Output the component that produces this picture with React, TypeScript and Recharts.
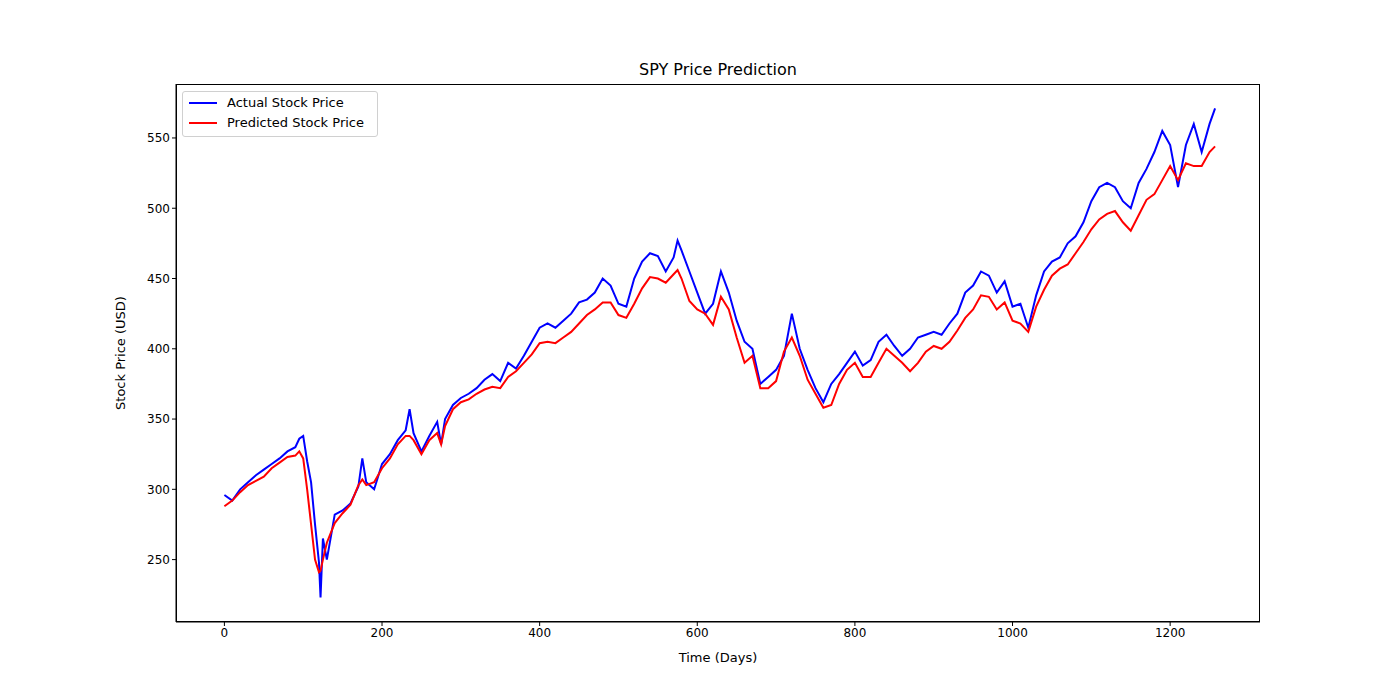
import { LineChart, Line, XAxis, YAxis } from 'recharts'

const days = [
  0, 10, 20, 30, 40, 50, 60, 70, 80, 90, 95, 100, 105, 110, 115, 120, 122, 125, 130, 140,
  150, 160, 170, 175, 180, 190, 200, 210, 220, 230, 235, 240, 250, 260, 270, 275, 280, 290, 300, 310,
  320, 330, 340, 350, 360, 370, 380, 390, 400, 410, 420, 430, 440, 450, 460, 470, 480, 490, 500, 510,
  520, 530, 540, 550, 560, 570, 575, 580, 590, 600, 610, 620, 630, 640, 650, 660, 670, 680, 690, 700,
  710, 720, 730, 740, 750, 760, 770, 780, 790, 800, 810, 820, 830, 840, 850, 860, 870, 880, 890, 900,
  910, 920, 930, 940, 950, 960, 970, 980, 990, 1000, 1010, 1020, 1030, 1040, 1050, 1060, 1070, 1080, 1090, 1100,
  1110, 1120, 1130, 1140, 1150, 1160, 1170, 1180, 1190, 1200, 1210, 1220, 1230, 1240, 1250, 1257,
]

const actual = [
  296, 292, 300, 305, 310, 314, 318, 322, 327, 330, 336, 338, 320, 305, 275, 248, 223, 265, 250, 282,
  285, 290, 302, 322, 305, 300, 318, 325, 335, 342, 357, 340, 327, 338, 348, 332, 350, 360, 365, 368,
  372, 378, 382, 377, 390, 386, 395, 405, 415, 418, 415, 420, 425, 433, 435, 440, 450, 445, 432, 430,
  450, 462, 468, 466, 455, 465, 477, 470, 455, 440, 425, 432, 455, 440, 420, 405, 400, 375, 380, 385,
  395, 425, 400, 385, 372, 362, 375, 382, 390, 398, 388, 392, 405, 410, 402, 395, 400, 408, 410, 412,
  410, 418, 425, 440, 445, 455, 452, 440, 448, 430, 432, 415, 438, 455, 462, 465, 475, 480, 490, 505,
  515, 518, 515, 505, 500, 518, 528, 540, 555, 545, 515, 545, 560, 540, 560, 571,
]

const predicted = [
  288, 292, 298, 303, 306, 309, 315, 319, 323, 324, 327, 322, 300, 275, 250, 241, 242, 250, 262, 276,
  283, 289, 303, 307, 303, 305, 315, 322, 332, 338, 338, 335, 325, 335, 340, 332, 345, 357, 362, 364,
  368, 371, 373, 372, 380, 384, 390, 396, 404, 405, 404, 408, 412, 418, 424, 428, 433, 433, 424, 422,
  432, 443, 451, 450, 447, 453, 456, 450, 434, 428, 425, 417, 437, 428, 408, 390, 395, 372, 372, 377,
  398, 408, 395, 378, 368, 358, 360, 375, 385, 390, 380, 380, 390, 400, 395, 390, 384, 390, 398, 402,
  400, 405, 413, 422, 428, 438, 437, 428, 433, 420, 418, 412, 430, 442, 452, 457, 460, 468, 476, 485,
  492, 496, 498, 490, 484, 495, 506, 510, 520, 530, 520, 532, 530, 530, 540, 544,
]

const xTicks = [0, 200, 400, 600, 800, 1000, 1200]
const yTicks = [250, 300, 350, 400, 450, 500, 550]

const data = days.map((d, i) => ({ day: d, actual: actual[i], predicted: predicted[i] }))

const font = '"DejaVu Sans", sans-serif'
const tick = { fontSize: 12, fill: '#000', fontFamily: font }

export default function App() {
  return (
    <div style={{ position: 'absolute', left: 0, top: 0, width: 1400, height: 700, background: '#fff', fontFamily: font }}>
      <LineChart width={1400} height={700} data={data} margin={{ top: 84, right: 140, left: 116, bottom: 38 }}>
        <XAxis
          dataKey="day"
          type="number"
          domain={[-61.4, 1314]}
          ticks={xTicks}
          tick={tick}
          stroke="#000"
          tickSize={4}
          height={40}
          allowDataOverflow
          label={{ value: 'Time (Days)', position: 'insideBottom', offset: 0, fontSize: 13, fill: '#000', fontFamily: font }}
        />
        <YAxis
          type="number"
          domain={[205.6, 588.4]}
          ticks={yTicks}
          tick={tick}
          stroke="#000"
          tickSize={4}
          width={60}
          allowDataOverflow
          label={{ value: 'Stock Price (USD)', angle: -90, position: 'insideLeft', offset: 4, fontSize: 13, fill: '#000', fontFamily: font, style: { textAnchor: 'middle' } }}
        />
        <Line dataKey="actual" stroke="#0000ff" strokeWidth={2} dot={false} isAnimationActive={false} />
        <Line dataKey="predicted" stroke="#ff0000" strokeWidth={2} dot={false} isAnimationActive={false} />
      </LineChart>
      {/* matplotlib-style frame around the plot area */}
      <div style={{ position: 'absolute', left: 176, top: 84, width: 1084, height: 538, border: '1px solid #000', boxSizing: 'border-box', pointerEvents: 'none' }} />
      <div style={{ position: 'absolute', left: 176, width: 1084, top: 60, textAlign: 'center', fontSize: 16 }}>
        SPY Price Prediction
      </div>
      <div
        style={{
          position: 'absolute', left: 182, top: 91, width: 194, height: 44,
          border: '1px solid #d0d0d0', borderRadius: 3, background: 'rgba(255,255,255,0.8)', fontSize: 13,
        }}
      >
        {[['Actual Stock Price', '#0000ff'], ['Predicted Stock Price', '#ff0000']].map(([name, c], i) => (
          <div key={name} style={{ position: 'absolute', left: 6, top: 3 + i * 20, display: 'flex', alignItems: 'center' }}>
            <span style={{ display: 'inline-block', width: 28, height: 2, background: c, marginRight: 10 }} />
            {name}
          </div>
        ))}
      </div>
    </div>
  )
}
